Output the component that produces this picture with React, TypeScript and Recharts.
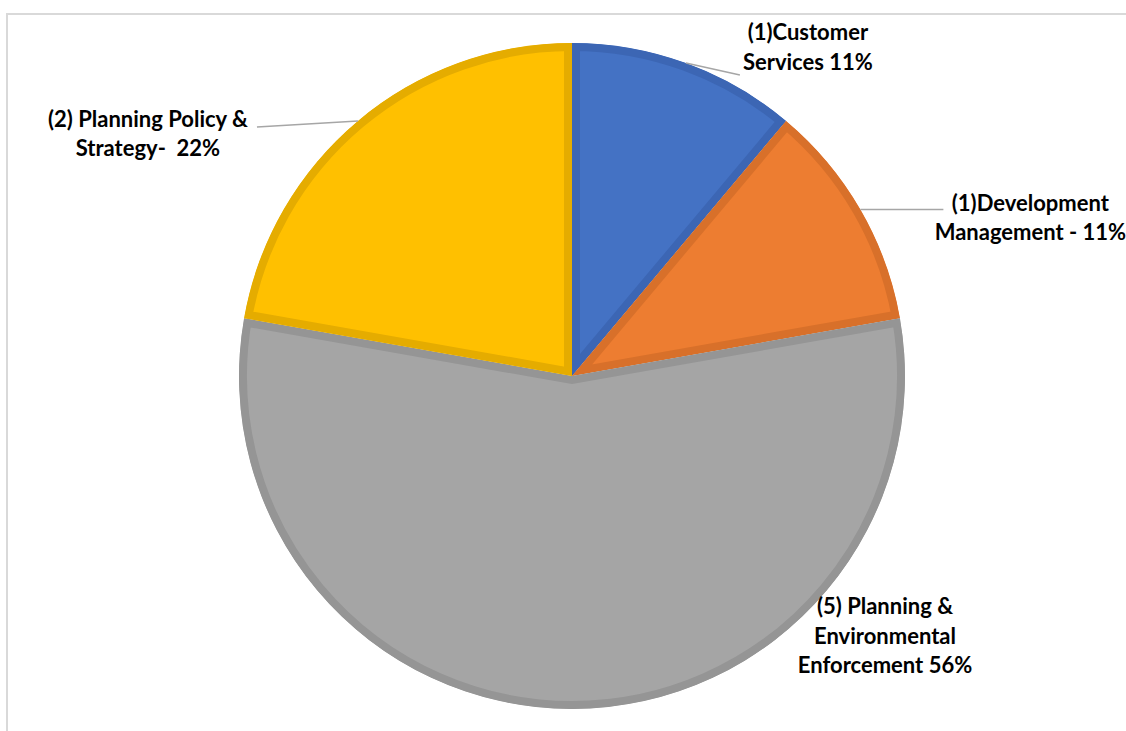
import React from "react";
import { PieChart, Pie, Cell, Sector } from "recharts";

const categories = [
  "(1)Customer Services",
  "(1)Development Management",
  "(5) Planning & Environmental Enforcement",
  "(2) Planning Policy & Strategy",
];
const counts = [1, 1, 5, 2];
const labelLines: string[][] = [
  ["(1)Customer", "Services 11%"],
  ["(1)Development", "Management - 11%"],
  ["(5) Planning &", "Environmental", "Enforcement 56%"],
  ["(2) Planning Policy &", "Strategy-  22%"],
];
const fills = ["#4472C4", "#ED7D31", "#A5A5A5", "#FFC000"];
const borders = ["#3C66B4", "#D8702A", "#959595", "#E5AC00"];

// label placement relative to slice edge point at mid-angle
const labelOffsets = [
  { dx: 122, dy: -23, lx: 54, ly: 12, leader: true },
  { dx: 170, dy: 1, lx: 83, ly: 0, leader: true },
  { dx: 313, dy: -95, lx: 0, ly: 0, leader: false },
  { dx: -210, dy: 6, lx: -101, ly: 6, leader: true },
];

const data = categories.map((name, i) => ({ name, value: counts[i] }));

const RAD = Math.PI / 180;
const FONT = "Lato, Carlito, Calibri, sans-serif";

const renderShape = (props: any) => {
  const { cx, cy, innerRadius, outerRadius, startAngle, endAngle, index } = props;
  const geo = { cx, cy, innerRadius, outerRadius, startAngle, endAngle };
  const id = `slice-clip-${index}`;
  return (
    <g>
      <defs>
        <clipPath id={id}>
          <Sector {...geo} />
        </clipPath>
      </defs>
      <Sector
        {...geo}
        fill={fills[index]}
        stroke={borders[index]}
        strokeWidth={16}
        clipPath={`url(#${id})`}
      />
    </g>
  );
};

const renderLabel = (props: any) => {
  const { cx, cy, midAngle, outerRadius, index } = props;
  const ex = cx + outerRadius * Math.cos(-midAngle * RAD);
  const ey = cy + outerRadius * Math.sin(-midAngle * RAD);
  const o = labelOffsets[index];
  const lines = labelLines[index];
  return (
    <g key={`lbl-${index}`}>
      {o.leader && (
        <line
          x1={ex}
          y1={ey}
          x2={ex + o.lx}
          y2={ey + o.ly}
          stroke="#A6A6A6"
          strokeWidth={1.5}
        />
      )}
      {lines.map((t, j) => (
        <text
          key={j}
          x={ex + o.dx}
          y={ey + o.dy + j * 29.5}
          textAnchor="middle"
          fontFamily={FONT}
          fontWeight={700}
          fontSize={22}
          fill="#000"
          style={{ whiteSpace: "pre" }}
          xmlSpace="preserve"
        >
          {t}
        </text>
      ))}
    </g>
  );
};

export default function App() {
  return (
    <div style={{ position: "absolute", left: 0, top: 0, width: 1126, height: 731, overflow: "hidden", background: "#fff" }}>
      <div
        style={{
          position: "absolute",
          left: 6,
          top: 13,
          width: 1300,
          height: 900,
          border: "2px solid #D9D9D9",
        }}
      />
      <div style={{ position: "absolute", left: 0, top: 0 }}>
        <PieChart width={1126} height={731} margin={{ top: 0, right: 0, bottom: 0, left: 0 }}>
          <Pie
            data={data}
            dataKey="value"
            nameKey="name"
            cx={572}
            cy={376}
            outerRadius={333}
            startAngle={90}
            endAngle={-270}
            stroke="none"
            shape={renderShape}
            label={renderLabel}
            labelLine={false}
            isAnimationActive={false}
          >
            {data.map((d, i) => (
              <Cell key={d.name} fill={fills[i]} />
            ))}
          </Pie>
        </PieChart>
      </div>
    </div>
  );
}
